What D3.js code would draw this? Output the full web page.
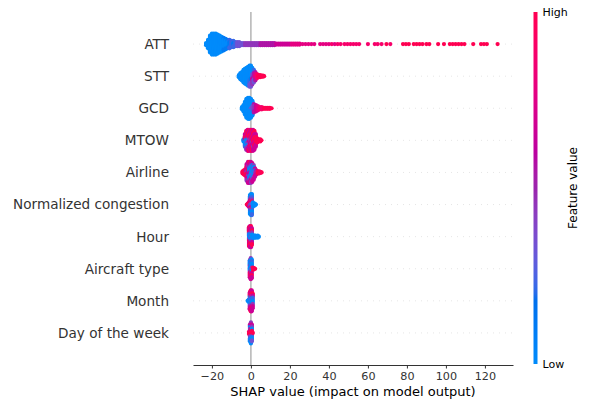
<!DOCTYPE html>
<html>
<head>
<meta charset="utf-8">
<script src="https://cdn.jsdelivr.net/npm/d3@7"></script>
<style>
  body { margin: 0; background: #fff; }
  svg { display: block; }
  text { font-family: "DejaVu Sans", sans-serif; }
</style>
</head>
<body>
<svg id="chart" width="590" height="401"></svg>
<script>
// Features, top to bottom
const features = ["ATT", "STT", "GCD", "MTOW", "Airline", "Normalized congestion",
                  "Hour", "Aircraft type", "Month", "Day of the week"];

const xTicks = [-20, 0, 20, 40, 60, 80, 100, 120];
const xDomain = [-29.7, 134.4];

// Each bin: [SHAP value, stacked points listed top to bottom as "level:count" runs]
// level 0 = low feature value (blue) ... 9 = high feature value (red)
const attBins = [
  [-23, "0:3"], [-22, "0:9"], [-21, "0:17"], [-20, "0:21"], [-19, "0:21"], [-18, "0:21"],
  [-17, "0:19"], [-16, "0:17"], [-15, "0:15"], [-14, "1:2,0:9,1:2"], [-13, "1:2,0:7,1:2"],
  [-12, "1:2,0:5,1:2"], [-11, "2:2,1:5,2:2"], [-10, "2:7"], [-9, "2:2,1:3,2:2"], [-8, "2:5"],
  [-7, "3:5"], [-6, "3:5"], [-5, "3:3"], [-4, "3:3"], [-3, "4:3"], [-2, "4:3"], [-1, "4:3"],
  [0, "4:3"], [1, "4:3"], [2, "4:3"], [3, "4:3"], [4, "4:3"], [5, "5:3"], [6, "5:3"],
  [7, "5:3"], [8, "5:3"], [9, "5:3"], [10, "5:3"], [11, "5:3"], [12, "5:3"],
  [13, "6:2"], [14, "6:2"], [15, "6:2"], [16, "6:2"], [17, "6:2"], [18, "6:2"], [19, "6:2"],
  [20, "6:2"], [21, "7:2"], [22, "7:2"], [23, "7:2"], [24, "7:2"], [25, "7:2"],
  [26.5, "7:1"], [28, "7:1"], [29.5, "7:1"], [31, "7:1"], [32.5, "7:1"],
  [35.5, "7:1"], [37, "7:1"], [38.5, "7:1"], [40, "7:1"], [41.5, "8:1"], [43, "7:1"],
  [44.5, "8:1"], [46, "8:1"], [48, "8:1"], [49.5, "8:1"], [51, "8:1"], [52.5, "8:1"],
  [54, "8:1"], [55.5, "8:1"], [60, "8:1"], [63.5, "8:1"], [65, "8:1"], [67, "8:1"],
  [69.5, "9:1"], [71.5, "8:1"], [78, "9:1"], [79.5, "9:1"], [81, "9:1"], [83.5, "9:1"],
  [85, "9:1"], [86.5, "9:1"], [88, "9:1"], [90, "9:1"], [91.5, "9:1"], [96, "9:1"],
  [99, "9:1"], [102, "9:1"], [103.5, "9:1"], [105, "9:1"], [106.5, "9:1"], [108, "9:1"],
  [109.5, "9:1"], [114, "9:1"], [118, "9:1"], [119.5, "9:1"], [121, "9:1"], [126.5, "9:1"]
];

const sttBins = [
  [-6.2, "0:3"], [-5.4, "0:7"], [-4.6, "0:9"], [-3.8, "0:13"], [-3.1, "0:15"],
  [-2.3, "0:17"], [-1.5, "0:19"], [-0.7, "0:14,2:4,3:3"], [0.0, "0:12,1:4,3:5"],
  [0.7, "0:6,3:4,6:3,4:4"], [1.5, "2:3,5:6,3:4"], [2.3, "5:2,7:5,5:2"], [3.1, "8:5"],
  [3.9, "9:3"], [4.7, "9:3"], [5.5, "9:2"], [6.2, "9:2"], [6.8, "9:1"]
];

const gcdBins = [
  [-4.6, "0:3"], [-3.8, "0:7"], [-3.1, "0:13"], [-2.3, "0:19"], [-1.5, "0:21"],
  [-0.8, "0:21"], [0.0, "0:9,3:2,0:8"], [0.8, "0:5,3:5,0:5"], [1.5, "5:2,4:5,5:2"],
  [2.6, "6:7"], [3.6, "7:5"], [4.6, "8:3"], [5.6, "8:3"], [6.7, "9:2"], [7.7, "9:2"],
  [8.7, "9:2"], [9.7, "9:2"], [10.6, "9:1"]
];

const mtowBins = [
  [-3.8, "0:3"], [-3.1, "6:3,9:2,6:2,0:4,2:2"], [-2.4, "9:3,6:3,9:2,0:2,2:2,0:4,4:3"],
  [-1.7, "6:3,9:4,6:2,0:3,4:2,0:2,4:2,6:3"], [-1.0, "9:3,6:3,9:3,4:2,6:2,4:3,6:3,9:2"],
  [-0.3, "6:4,9:3,6:2,4:3,6:3,9:2,6:4"], [0.4, "9:3,6:4,9:3,6:2,4:2,6:3,9:4"],
  [1.1, "6:3,9:4,6:3,9:3,6:3,4:2,6:3"], [1.8, "9:3,6:3,9:4,6:3,9:3,6:3"],
  [2.5, "6:3,9:7,6:3"], [3.2, "9:5"], [4.0, "9:3"], [4.8, "9:3"], [5.4, "9:1"]
];

const airlineBins = [
  [-4.3, "9:3"], [-3.6, "9:5"], [-2.9, "9:2,6:1,9:4"], [-2.2, "6:3,9:2,6:2,4:2,9:4,6:2,4:2"],
  [-1.5, "6:4,4:2,6:2,9:2,6:3,4:2,6:2,4:2,6:2"], [-0.8, "9:2,6:3,2:2,0:3,6:3,2:2,0:2,4:2,6:2"],
  [0.0, "6:3,4:2,0:3,2:3,0:4,4:2,6:2,4:2"], [0.7, "6:2,0:3,2:2,0:4,3:2,0:2,4:2,6:2"],
  [1.4, "4:2,0:3,2:3,0:3,4:2,6:2"], [2.1, "6:2,0:2,4:3,6:2"], [2.8, "6:2,4:1,6:2"],
  [3.5, "9:3"], [4.2, "9:3"], [4.9, "8:2"], [5.5, "9:1"]
];

const congestionBins = [
  [-2.1, "9:1"], [-1.6, "9:3"], [-1.1, "6:1,9:3,6:1"],
  [-0.5, "0:3,2:2,6:2,9:2,4:3,6:2,2:2,0:3"], [0.0, "0:3,4:2,9:2,6:2,3:3,9:2,4:2,2:2,0:3"],
  [0.5, "0:3,2:2,4:2,9:2,3:3,6:2,4:2,0:3,2:2"], [1.0, "0:5"], [1.5, "0:3"], [2.0, "0:3"],
  [2.6, "0:1"]
];

const hourBins = [
  [-1.0, "9:2,6:2,9:2,2:2,0:3,4:2,9:2,6:2,9:2"], [-0.5, "6:3,9:2,6:2,0:2,2:2,0:3,6:2,9:3,6:2"],
  [0.0, "9:2,6:3,4:2,0:3,3:2,0:2,4:2,9:3,6:2"], [0.5, "6:2,9:2,4:2,0:5,2:2,6:2,9:2"],
  [1.1, "0:3"], [1.7, "0:3"], [2.3, "0:3"], [2.9, "0:2"], [3.5, "0:3"], [4.1, "0:1"]
];

const aircraftBins = [
  [-0.6, "2:2,0:3,4:2,0:4,6:2,9:2,6:2"], [-0.1, "4:2,0:2,2:2,0:5,3:2,9:2,6:2,9:2,6:2"],
  [0.4, "0:2,2:2,0:4,4:2,0:3,6:2,9:2,6:2"], [1.0, "9:3"], [1.6, "9:2"], [2.2, "9:1"]
];

const monthBins = [
  [-1.7, "0:1"], [-1.2, "0:3"], [-0.6, "6:2,9:2,0:3,2:2,0:3,4:2,6:3"],
  [-0.1, "9:3,6:2,9:2,4:2,0:3,2:2,4:2,6:2,9:3"], [0.4, "6:3,9:2,4:2,0:3,2:2,0:2,6:2,9:2,6:3"],
  [0.9, "9:2,6:2,2:3,0:3,4:2,6:3"]
];

const weekdayBins = [
  [-1.0, "9:3"], [-0.5, "6:2,0:2,4:2,6:2,9:3,4:2,2:2,0:2"],
  [0.0, "4:2,6:2,0:2,6:2,9:5,3:2,0:2,2:2,0:2"], [0.5, "6:2,4:2,0:2,9:5,2:2,0:2,3:2"],
  [1.0, "9:1"]
];

const binsByFeature = [attBins, sttBins, gcdBins, mtowBins, airlineBins, congestionBins,
                       hourBins, aircraftBins, monthBins, weekdayBins];

// Red-blue colormap: straight path through CIE LCh (D65), blue -> purple -> red
function lchToHex(L, C, h) {
  const a = C * Math.cos(h), b = C * Math.sin(h);
  const fy = (L + 16) / 116, fx = fy + a / 500, fz = fy - b / 200;
  const inv = t => (t > 6 / 29 ? t * t * t : 3 * (6 / 29) * (6 / 29) * (t - 4 / 29));
  const X = 0.95047 * inv(fx), Y = 1.0 * inv(fy), Z = 1.08883 * inv(fz);
  const lin = [
    3.2404542 * X - 1.5371385 * Y - 0.4985314 * Z,
    -0.9692660 * X + 1.8760108 * Y + 0.0415560 * Z,
    0.0556434 * X - 0.2040259 * Y + 1.0572252 * Z
  ];
  const gam = v => {
    const c = Math.min(1, Math.max(0, v));
    return c <= 0.0031308 ? 12.92 * c : 1.055 * Math.pow(c, 1 / 2.4) - 0.055;
  };
  return d3.rgb(...lin.map(v => Math.round(gam(v) * 255))).formatHex();
}
function featureColor(t) {
  const hBlue = 4.6588, hRed = 0.35470565 + 2 * Math.PI;
  const L = t < 0.5 ? 54 + (40 - 54) * (t / 0.5) : 40 + (54 - 40) * ((t - 0.5) / 0.5);
  const C = 70 + (90 - 70) * t;
  const h = hBlue + (hRed - hBlue) * t;
  return lchToHex(L, C, h);
}

const svg = d3.select("#chart");
const plotLeft = 193, plotRight = 513, plotTop = 12, plotBottom = 365;
const nRows = features.length;

const x = d3.scaleLinear().domain(xDomain).range([plotLeft, plotRight]);
const y = d3.scaleLinear().domain([-1, nRows]).range([plotBottom, plotTop]);
const rowPos = i => nRows - 1 - i;

// dotted row guides
svg.append("g").selectAll("line").data(features).join("line")
  .attr("x1", plotLeft).attr("x2", plotRight)
  .attr("y1", (d, i) => y(rowPos(i))).attr("y2", (d, i) => y(rowPos(i)))
  .attr("stroke", "#cccccc").attr("stroke-width", 0.5).attr("stroke-dasharray", "1,5");

// zero line
svg.append("line")
  .attr("x1", x(0)).attr("x2", x(0)).attr("y1", plotTop).attr("y2", plotBottom)
  .attr("stroke", "#999999").attr("stroke-width", 1.1);

// beeswarm points
const rowHeight = 0.4;
const parseRuns = s => s.split(",").flatMap(r => {
  const [lvl, n] = r.split(":").map(Number);
  return Array(n).fill(lvl);
});

const points = [];
binsByFeature.forEach((bins, i) => {
  const parsed = bins.map(([v, runs]) => ({ v, levels: parseRuns(runs) }));
  const maxHalf = d3.max(parsed, b => (b.levels.length - 1) / 2);
  const unit = 0.9 * rowHeight / (maxHalf + 1);
  parsed.forEach(b => {
    const c = b.levels.length;
    b.levels.forEach((lvl, j) => {
      points.push({ v: b.v, pos: rowPos(i) + ((c - 1) / 2 - j) * unit, level: lvl });
    });
  });
});

svg.append("g").selectAll("circle").data(points).join("circle")
  .attr("cx", d => x(d.v))
  .attr("cy", d => y(d.pos))
  .attr("r", 2.1)
  .attr("fill", d => featureColor(d.level / 9));

// feature labels
svg.append("g").selectAll("text").data(features).join("text")
  .attr("x", 169).attr("y", (d, i) => y(rowPos(i)))
  .attr("dy", "0.36em")
  .attr("text-anchor", "end")
  .attr("font-size", "13.6px")
  .attr("fill", "#333333")
  .text(d => d);

// x axis
const xAxis = svg.append("g")
  .attr("transform", `translate(0,${plotBottom})`)
  .call(d3.axisBottom(x).tickValues(xTicks).tickSize(3.5).tickSizeOuter(0).tickPadding(3.5));
xAxis.select(".domain").attr("stroke", "#333333").attr("stroke-width", 1);
xAxis.selectAll(".tick line").attr("stroke", "#333333");
xAxis.selectAll(".tick text")
  .attr("font-family", "DejaVu Sans, sans-serif")
  .attr("font-size", "11.2px").attr("fill", "#333333");

svg.append("text")
  .attr("x", (plotLeft + plotRight) / 2).attr("y", 396)
  .attr("text-anchor", "middle")
  .attr("font-size", "13px").attr("fill", "#000")
  .text("SHAP value (impact on model output)");

// colour bar
const cbX = 533.5, cbW = 4, cbTop = 12, cbBottom = 364;
const grad = svg.append("defs").append("linearGradient")
  .attr("id", "fvGrad").attr("x1", 0).attr("y1", 1).attr("x2", 0).attr("y2", 0);
grad.selectAll("stop").data(d3.range(0, 1.0001, 0.02)).join("stop")
  .attr("offset", d => d).attr("stop-color", d => featureColor(d));
svg.append("rect")
  .attr("x", cbX).attr("y", cbTop).attr("width", cbW).attr("height", cbBottom - cbTop)
  .attr("fill", "url(#fvGrad)");

svg.append("text").attr("x", 542.5).attr("y", cbTop).attr("dy", "0.36em")
  .attr("font-size", "11px").attr("fill", "#000").text("High");
svg.append("text").attr("x", 542.5).attr("y", cbBottom).attr("dy", "0.36em")
  .attr("font-size", "11px").attr("fill", "#000").text("Low");
svg.append("text")
  .attr("transform", `translate(577,${(cbTop + cbBottom) / 2}) rotate(-90)`)
  .attr("text-anchor", "middle")
  .attr("font-size", "12px").attr("fill", "#000")
  .text("Feature value");
</script>
</body>
</html>
